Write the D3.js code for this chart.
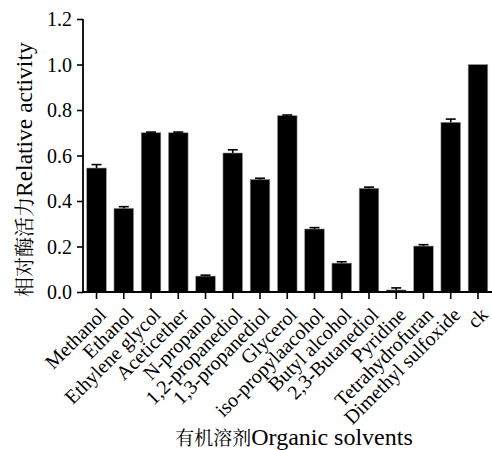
<!DOCTYPE html>
<html><head><meta charset="utf-8">
<script src="https://cdn.jsdelivr.net/npm/d3@7"></script>
<style>body{margin:0;background:#fff}svg{display:block}</style>
</head><body>
<svg id="c" width="492" height="450"></svg>
<script>
const categories = ["Methanol","Ethanol","Ethylene glycol","Aceticether","N-propanol","1,2-propanediol","1,3-propanediol","Glycerol","iso-propylaacohol","Butyl alcohol","2,3-Butanediol","Pyridine","Tetrahydrofuran","Dimethyl sulfoxide","ck"];
const values = [0.545,0.368,0.700,0.700,0.070,0.611,0.495,0.775,0.277,0.127,0.456,0.009,0.202,0.746,1.0];
const errors = [0.015,0.007,0.003,0.003,0.004,0.014,0.005,0.003,0.006,0.006,0.005,0.009,0.006,0.014,0.0];
const yTicks = [0.0,0.2,0.4,0.6,0.8,1.0,1.2];

const svg = d3.select("#c");
const font = "'Liberation Serif'";
const cjk = "'Noto Serif CJK SC'";
const x = d3.scaleBand().domain(categories).range([84,490.5]).paddingInner(0.28).paddingOuter(0.1);
const y = d3.scaleLinear().domain([0,1.2]).range([292,19]);

// bars
svg.append("g").selectAll("rect").data(categories).join("rect")
  .attr("x", d=>x(d)).attr("width", x.bandwidth())
  .attr("y", (d,i)=>y(values[i])).attr("height",(d,i)=>y(0)-y(values[i]))
  .attr("fill","#000").attr("stroke","#999").attr("stroke-width",0.6);

// error bars
const eg = svg.append("g").attr("stroke","#000").attr("stroke-width",1.6);
categories.forEach((c,i)=>{
  if(errors[i]<=0) return;
  const cx = x(c)+x.bandwidth()/2;
  eg.append("line").attr("x1",cx).attr("x2",cx).attr("y1",y(values[i])).attr("y2",y(values[i]+errors[i]));
  eg.append("line").attr("x1",cx-5).attr("x2",cx+5).attr("y1",y(values[i]+errors[i])).attr("y2",y(values[i]+errors[i]));
});

// y axis
const ya = svg.append("g").attr("transform","translate(83,0)")
  .call(d3.axisLeft(y).tickValues(yTicks).tickFormat(d3.format(".1f")).tickSize(6).tickPadding(5));
ya.attr("font-family",null);
ya.select(".domain").attr("stroke-width",1.8).attr("d","M0,19V293");
ya.selectAll(".tick line").attr("stroke-width",1.6);
ya.selectAll("text").style("font-family",font).attr("font-size",20).attr("fill","#000").attr("dy","0.34em");

// x axis
const xa = svg.append("g").attr("transform","translate(0,292)")
  .call(d3.axisBottom(x).tickSize(7).tickSizeOuter(0));
xa.attr("font-family",null);
xa.select(".domain").attr("stroke-width",1.8).attr("d","M82,0H492");
xa.selectAll(".tick line").attr("stroke-width",1.6);
xa.selectAll("text").style("font-family",font).attr("font-size",20).attr("fill","#000")
  .attr("text-anchor","end").attr("dy",null).attr("y",0)
  .attr("transform","translate(11,24) rotate(-45)");

// titles
const yt = svg.append("text").attr("transform","translate(32,297) rotate(-90)")
  .attr("text-anchor","start").attr("fill","#000");
yt.append("tspan").style("font-family",cjk).attr("font-size",20).text("相对酶活力");
yt.append("tspan").style("font-family",font).attr("font-size",23.5).text("Relative activity");

const xt = svg.append("text").attr("x",294).attr("y",445).attr("text-anchor","middle").attr("fill","#000");
xt.append("tspan").style("font-family",cjk).attr("font-size",19).text("有机溶剂");
xt.append("tspan").style("font-family",font).attr("font-size",24).text("Organic solvents");
</script>
</body></html>
